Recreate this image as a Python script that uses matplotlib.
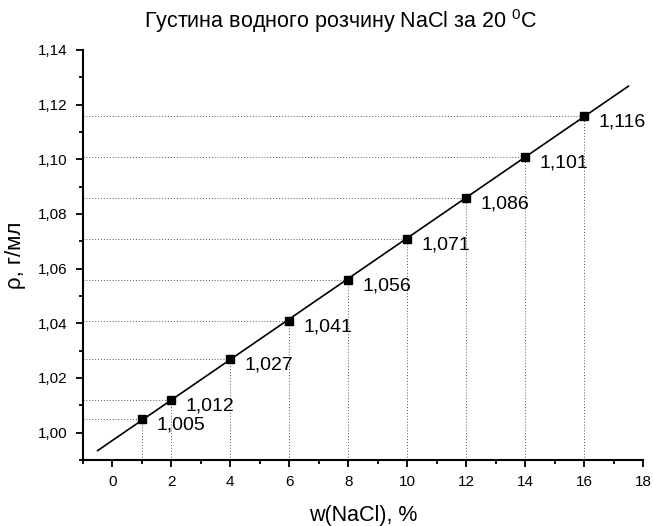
import matplotlib.pyplot as plt
import numpy as np
from matplotlib.ticker import MultipleLocator, FuncFormatter

plt.rcParams['font.family'] = ['Liberation Sans', 'DejaVu Sans']
plt.rcParams['mathtext.fontset'] = 'custom'
plt.rcParams['mathtext.rm'] = 'Liberation Sans'

# концентрація NaCl, % та густина, г/мл
w = [1, 2, 4, 6, 8, 10, 12, 14, 16]
rho = [1.005, 1.012, 1.027, 1.041, 1.056, 1.071, 1.086, 1.101, 1.116]
labels = ['1,005', '1,012', '1,027', '1,041', '1,056', '1,071', '1,086', '1,101', '1,116']

fig = plt.figure(figsize=(6.53, 5.26), dpi=100)
ax = fig.add_axes([0.127, 0.1255, 0.858, 0.7795])

xmin, xmax = -1, 18
ymin, ymax = 0.99, 1.14

# лінійна апроксимація
k, b = np.polyfit(w, rho, 1)
xf = np.array([-0.5, 17.5])
ax.plot(xf, k * xf + b, color='black', lw=1.2, zorder=3)

# пунктирні лінії до осей
for x, y in zip(w, rho):
    ax.plot([xmin, x], [y, y], color='#555555', ls=(0, (1, 2)), lw=0.7, zorder=1)
    ax.plot([x, x], [ymin, y], color='#555555', ls=(0, (1, 2)), lw=0.7, zorder=1)

ax.plot(w, rho, 's', color='black', markersize=6, zorder=4)

for x, y, t in zip(w, rho, labels):
    ax.annotate(t, (x, y), xytext=(10.5, -4.5), textcoords='offset points',
                ha='left', va='center', fontsize=14)

ax.set_xlim(xmin, xmax)
ax.set_ylim(ymin, ymax)
ax.xaxis.set_major_locator(MultipleLocator(2))
ax.xaxis.set_minor_locator(MultipleLocator(1))
ax.yaxis.set_major_locator(MultipleLocator(0.02))
ax.yaxis.set_minor_locator(MultipleLocator(0.01))
ax.yaxis.set_major_formatter(FuncFormatter(lambda v, p: f'{v:.2f}'.replace('.', ',')))

for s in ['top', 'right']:
    ax.spines[s].set_visible(False)
for s in ['left', 'bottom']:
    ax.spines[s].set_linewidth(1.5)

ax.tick_params(which='major', direction='out', length=5, width=1.3, labelsize=11, pad=6)
ax.tick_params(which='minor', direction='out', length=3, width=1.3)

ax.set_xlabel('w(NaCl), %', fontsize=15.5, labelpad=11)
ax.set_ylabel('ρ, г/мл', fontsize=16, labelpad=9)
fig.text(0.522, 0.96, 'Густина водного розчину NaCl за 20 $^{0}$C',
         ha='center', va='center', fontsize=15.5)

fig.savefig('out.png', dpi=100)
